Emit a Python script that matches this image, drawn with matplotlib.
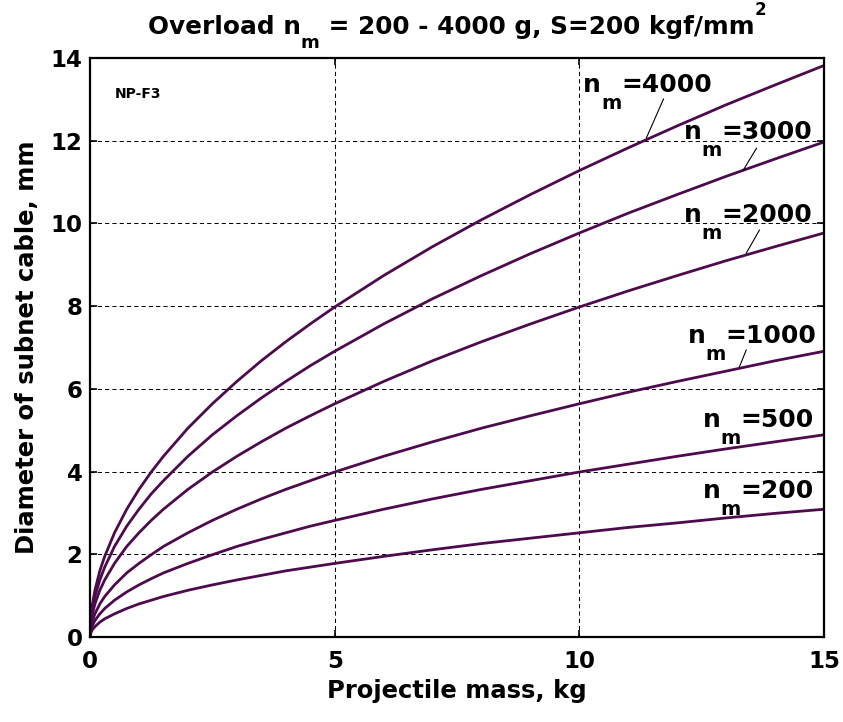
import matplotlib
matplotlib.use("Agg")
import matplotlib.pyplot as plt
from matplotlib.transforms import IdentityTransform

plt.rcParams['font.family'] = ['DejaVu Sans']
plt.rcParams['font.weight'] = 'bold'

# projectile mass, kg
mass = [0, 0.02, 0.05, 0.1, 0.2, 0.3, 0.5, 0.75, 1, 1.25, 1.5, 2, 2.5, 3, 3.5,
        4, 4.5, 5, 6, 7, 8, 9, 10, 11, 12, 13, 14, 15]

# cable diameter (mm) for each overload
d_4000 = [0, 0.50, 0.80, 1.13, 1.60, 1.95, 2.52, 3.09, 3.57, 3.99, 4.37, 5.05,
          5.64, 6.18, 6.68, 7.14, 7.57, 7.98, 8.74, 9.44, 10.09, 10.70, 11.28,
          11.83, 12.36, 12.87, 13.35, 13.82]
d_3000 = [0, 0.44, 0.69, 0.98, 1.38, 1.69, 2.19, 2.68, 3.09, 3.46, 3.78, 4.37,
          4.89, 5.35, 5.78, 6.18, 6.56, 6.91, 7.57, 8.18, 8.74, 9.27, 9.77,
          10.25, 10.70, 11.14, 11.56, 11.97]
d_2000 = [0, 0.36, 0.56, 0.80, 1.13, 1.38, 1.78, 2.19, 2.52, 2.82, 3.09, 3.57,
          3.99, 4.37, 4.72, 5.05, 5.35, 5.64, 6.18, 6.68, 7.14, 7.57, 7.98,
          8.37, 8.74, 9.10, 9.44, 9.77]
d_1000 = [0, 0.25, 0.40, 0.56, 0.80, 0.98, 1.26, 1.55, 1.78, 1.99, 2.19, 2.52,
          2.82, 3.09, 3.34, 3.57, 3.78, 3.99, 4.37, 4.72, 5.05, 5.35, 5.64,
          5.92, 6.18, 6.43, 6.68, 6.91]
d_500 = [0, 0.18, 0.28, 0.40, 0.56, 0.69, 0.89, 1.09, 1.26, 1.41, 1.55, 1.78,
         1.99, 2.19, 2.36, 2.52, 2.68, 2.82, 3.09, 3.34, 3.57, 3.78, 3.99,
         4.18, 4.37, 4.55, 4.72, 4.89]
d_200 = [0, 0.11, 0.18, 0.25, 0.36, 0.44, 0.56, 0.69, 0.80, 0.89, 0.98, 1.13,
         1.26, 1.38, 1.49, 1.60, 1.69, 1.78, 1.95, 2.11, 2.26, 2.39, 2.52,
         2.65, 2.76, 2.88, 2.99, 3.09]

overloads = ['4000', '3000', '2000', '1000', '500', '200']
series = [d_4000, d_3000, d_2000, d_1000, d_500, d_200]

xticks = [0, 5, 10, 15]
yticks = [0, 2, 4, 6, 8, 10, 12, 14]

LINE = '#4d0a4d'


def put_pieces(fig, x, y, parts):
    """write text pieces one after another, x/y in pixels (baseline)"""
    r = fig.canvas.get_renderer()
    texts = []
    x0 = x
    for s, size, dy in parts:
        t = fig.text(x, y + dy, s, fontsize=size, fontweight='bold',
                     transform=IdentityTransform(), va='baseline', ha='left')
        x = t.get_window_extent(r).x1
        texts.append(t)
    return texts, x - x0


fig = plt.figure(figsize=(8.43, 7.22), dpi=100)
ax = fig.add_axes([0.1068, 0.1177, 0.8707, 0.8019])

for d in series:
    ax.plot(mass, d, color=LINE, lw=2.0)

ax.set_xlim(0, 15)
ax.set_ylim(0, 14)
ax.set_xticks(xticks)
ax.set_yticks(yticks)
ax.grid(True, color='black', linestyle=(0, (4, 3)), linewidth=0.75)
ax.tick_params(direction='in', length=5, width=1.2, top=True, right=True,
               labelsize=16.5)
ax.tick_params(axis='x', pad=9)
ax.tick_params(axis='y', pad=5.5)
for lab in ax.get_xticklabels() + ax.get_yticklabels():
    lab.set_fontweight('bold')
for sp in ax.spines.values():
    sp.set_linewidth(1.6)

ax.set_xlabel('Projectile mass, kg', fontsize=17.5, fontweight='bold',
              labelpad=5)
ax.set_ylabel('Diameter of subnet cable, mm', fontsize=17.5,
              fontweight='bold', labelpad=8)

ax.text(0.51, 13.13, 'NP-F3', fontsize=10, fontweight='bold', va='center')

# title, built from pieces so the sub/superscripts sit like the original,
# then centred over the axes
title_parts, tw = put_pieces(fig, 0, 722 - 34,
                             [('Overload n', 17.8, 0),
                              ('m', 13, -14),
                              (' = 200 - 4000 g, S=200 kgf/mm', 17.8, 0),
                              ('2', 12, 19)])
ax_mid = (ax.get_window_extent().x0 + ax.get_window_extent().x1) / 2
for t in title_parts:
    tx, ty = t.get_position()
    t.set_position((tx + ax_mid - tw / 2, ty))

# label anchors (left of "n", baseline) and leader lines, layout only
label_pos = [(10.08, 13.18), (12.13, 12.04), (12.13, 10.03),
             (12.21, 7.11), (12.52, 5.08), (12.52, 3.36)]
leaders = {'4000': ((11.72, 13.01), (11.37, 12.07)),
           '3000': ((13.62, 11.82), (13.35, 11.29)),
           '2000': ((13.68, 9.84), (13.41, 9.28)),
           '1000': ((13.41, 6.94), (13.27, 6.53))}

for name, pos in zip(overloads, label_pos):
    px, py = ax.transData.transform(pos)
    put_pieces(fig, px, py, [('n', 18, 0), ('m', 14, -17), ('=' + name, 18, 0)])
    if name in leaders:
        (x0, y0), (x1, y1) = leaders[name]
        ax.plot([x0, x1], [y0, y1], color='black', lw=0.8)

fig.savefig('out.png', dpi=100)
